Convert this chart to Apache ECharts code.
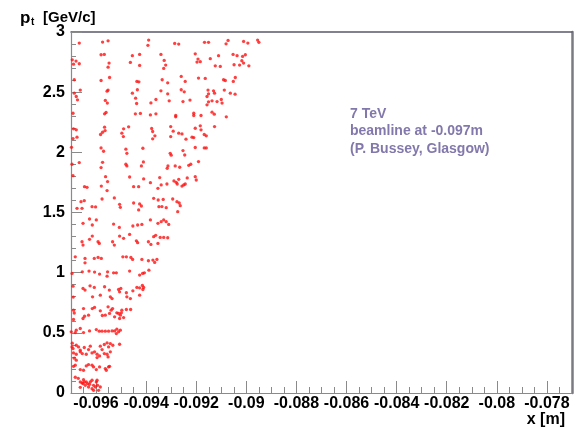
<!DOCTYPE html>
<html><head><meta charset="utf-8">
<script src="https://cdn.jsdelivr.net/npm/echarts@6/dist/echarts.min.js"></script>
<style>html,body{margin:0;padding:0;background:#fff}#c{width:582px;height:427px}</style>
</head><body><div id="c"></div>
<script>
// Axis ranges and tick labels
const X_MIN = -0.097, X_MAX = -0.077;
const Y_MIN = 0, Y_MAX = 3;
const xTickValues = [-0.096, -0.094, -0.092, -0.09, -0.088, -0.086, -0.084, -0.082, -0.08, -0.078];
const xTickLabels = ['-0.096', '-0.094', '-0.092', '-0.09', '-0.088', '-0.086', '-0.084', '-0.082', '-0.08', '-0.078'];
const yTickLabels = ['0', '0.5', '1', '1.5', '2', '2.5', '3'];
const annotationLines = ['7 TeV', 'beamline at -0.097m', '(P. Bussey, Glasgow)'];

// Hits: [x (m), pt (GeV/c)]
const hitsPt25to30 = [
[-0.09667,2.908],[-0.09574,2.916],[-0.09552,2.927],[-0.09390,2.933],[-0.09393,2.889],[-0.09286,2.905],[-0.09270,2.900],[-0.09167,2.914],[-0.09151,2.914],[-0.09081,2.902],[-0.09073,2.930],[-0.09011,2.922],[-0.08994,2.908],[-0.08955,2.933],[-0.08950,2.914],
[-0.09695,2.769],[-0.09680,2.758],[-0.09690,2.733],[-0.09667,2.736],[-0.09580,2.811],[-0.09567,2.814],[-0.09548,2.742],[-0.09552,2.708],[-0.09455,2.803],[-0.09426,2.814],[-0.09463,2.747],[-0.09426,2.722],[-0.09341,2.814],[-0.09328,2.764],[-0.09322,2.725],[-0.09330,2.697],[-0.09204,2.819],[-0.09193,2.775],[-0.09197,2.750],[-0.09184,2.753],[-0.09144,2.778],[-0.09111,2.803],[-0.09124,2.719],[-0.09104,2.714],[-0.09053,2.814],[-0.09037,2.803],[-0.09015,2.797],[-0.09004,2.811],[-0.09018,2.761],[-0.09011,2.742],[-0.09049,2.728],[-0.09027,2.725],[-0.08990,2.719],
[-0.09687,2.603],[-0.09580,2.597],[-0.09546,2.622],[-0.09437,2.589],[-0.09429,2.586],[-0.09336,2.603],[-0.09314,2.578],[-0.09260,2.631],[-0.09244,2.589],[-0.09191,2.617],[-0.09164,2.614],[-0.09091,2.603],[-0.09084,2.597],[-0.09052,2.589],[-0.09044,2.622],
[-0.09663,2.517],[-0.09556,2.508],[-0.09552,2.517],[-0.09435,2.520],[-0.09341,2.511],[-0.09248,2.503],[-0.09260,2.520],[-0.09153,2.517],[-0.09131,2.511],[-0.09088,2.517]
];
const hitsPt20to25 = [
[-0.09687,2.492],[-0.09679,2.464],[-0.09455,2.492],[-0.09314,2.486],[-0.09151,2.486],[-0.09127,2.492],[-0.09064,2.492],[-0.09045,2.483],
[-0.09674,2.436],[-0.09563,2.431],[-0.09555,2.409],[-0.09442,2.450],[-0.09438,2.406],[-0.09381,2.411],[-0.09361,2.439],[-0.09308,2.428],[-0.09253,2.422],[-0.09225,2.434],[-0.09157,2.464],[-0.09151,2.420],[-0.09137,2.428],[-0.09117,2.422],[-0.09100,2.439],[-0.09097,2.409],[-0.09157,2.395],
[-0.09692,2.325],[-0.09560,2.331],[-0.09566,2.320],[-0.09443,2.320],[-0.09423,2.323],[-0.09383,2.311],[-0.09361,2.320],[-0.09282,2.306],[-0.09282,2.295],[-0.09210,2.325],[-0.09210,2.306],[-0.09181,2.306],[-0.09137,2.334],[-0.09128,2.317],[-0.09080,2.295],
[-0.09690,2.195],[-0.09679,2.187],[-0.09676,2.126],[-0.09692,2.114],[-0.09582,2.148],[-0.09574,2.167],[-0.09566,2.209],[-0.09564,2.181],[-0.09490,2.195],[-0.09497,2.159],[-0.09491,2.131],[-0.09470,2.212],[-0.09378,2.198],[-0.09374,2.173],[-0.09374,2.112],[-0.09365,2.137],[-0.09302,2.214],[-0.09302,2.131],[-0.09292,2.176],[-0.09270,2.159],[-0.09257,2.153],[-0.09241,2.109],[-0.09217,2.126],[-0.09210,2.123],[-0.09204,2.200],[-0.09184,2.220],[-0.09181,2.187],[-0.09168,2.148],[-0.09160,2.137],[-0.09127,2.214]
];
const hitsPt15to20 = [
[-0.09698,2.042],[-0.09580,2.037],[-0.09570,2.009],[-0.09481,2.026],[-0.09477,1.992],[-0.09413,2.034],[-0.09304,1.992],[-0.09300,1.976],[-0.09253,2.015],[-0.09246,1.978],[-0.09204,2.040],[-0.09168,2.037],[-0.09160,2.037],
[-0.09696,1.901],[-0.09667,1.915],[-0.09580,1.873],[-0.09574,1.917],[-0.09481,1.901],[-0.09477,1.887],[-0.09419,1.887],[-0.09411,1.920],[-0.09316,1.867],[-0.09313,1.887],[-0.09284,1.887],[-0.09266,1.876],[-0.09230,1.892],[-0.09222,1.901],[-0.09191,1.923],
[-0.09692,1.806],[-0.09562,1.798],[-0.09579,1.720],[-0.09554,1.757],[-0.09466,1.795],[-0.09450,1.715],[-0.09430,1.715],[-0.09410,1.779],[-0.09383,1.748],[-0.09346,1.790],[-0.09340,1.729],[-0.09353,1.701],[-0.09317,1.737],[-0.09289,1.762],[-0.09280,1.751],[-0.09276,1.737],[-0.09270,1.776],[-0.09257,1.720],[-0.09250,1.729],[-0.09244,1.737],[-0.09236,1.787],[-0.09204,1.798],[-0.09200,1.770],
[-0.09646,1.715],[-0.09636,1.709],[-0.09660,1.590],[-0.09647,1.598],[-0.09576,1.612],[-0.09556,1.682],[-0.09527,1.621],[-0.09506,1.568],[-0.09450,1.579],[-0.09426,1.571],[-0.09419,1.554],[-0.09370,1.618],[-0.09352,1.604],[-0.09349,1.548],[-0.09332,1.609],[-0.09320,1.540],[-0.09294,1.612],[-0.09268,1.579],[-0.09264,1.557],[-0.09676,1.535],[-0.09656,1.535],[-0.09616,1.548],[-0.09602,1.546]
];
const hitsPt10to15 = [
[-0.09503,1.543],[-0.09430,1.521],[-0.09337,1.549],[-0.09277,1.590],[-0.09274,1.507],
[-0.09652,1.410],[-0.09626,1.446],[-0.09615,1.396],[-0.09599,1.438],[-0.09530,1.404],[-0.09507,1.376],[-0.09453,1.388],[-0.09434,1.396],[-0.09417,1.401],[-0.09383,1.438],[-0.09353,1.410],[-0.09340,1.424],[-0.09330,1.438],[-0.09320,1.424],[-0.09310,1.401],
[-0.09656,1.257],[-0.09652,1.229],[-0.09626,1.277],[-0.09615,1.304],[-0.09592,1.257],[-0.09587,1.243],[-0.09534,1.257],[-0.09527,1.229],[-0.09506,1.304],[-0.09490,1.285],[-0.09466,1.318],[-0.09439,1.265],[-0.09434,1.249],[-0.09391,1.257],[-0.09381,1.235],[-0.09370,1.299],[-0.09362,1.310],[-0.09353,1.243],[-0.09344,1.293],[-0.09330,1.293],[-0.09314,1.290],
[-0.09683,1.132],[-0.09644,1.118],[-0.09644,1.082],[-0.09607,1.118],[-0.09592,1.127],[-0.09579,1.118],[-0.09493,1.132],[-0.09479,1.132],[-0.09461,1.127],[-0.09454,1.110],[-0.09417,1.110],[-0.09391,1.099],[-0.09373,1.105],[-0.09357,1.110],[-0.09366,1.085],
[-0.09696,0.994],[-0.09655,1.007],[-0.09628,1.013],[-0.09606,1.005],[-0.09586,0.988],[-0.09554,1.007],[-0.09556,0.971],[-0.09530,0.999],[-0.09519,0.999],[-0.09466,1.013],[-0.09426,0.980],[-0.09414,0.994],[-0.09407,0.999],[-0.09389,1.021]
];
const hitsPt05to10 = [
[-0.09692,0.888],[-0.09652,0.869],[-0.09644,0.855],[-0.09624,0.891],[-0.09607,0.877],[-0.09614,0.799],[-0.09583,0.813],[-0.09566,0.883],[-0.09547,0.855],[-0.09543,0.799],[-0.09536,0.785],[-0.09510,0.860],[-0.09501,0.869],[-0.09506,0.841],[-0.09479,0.833],[-0.09477,0.799],[-0.09463,0.785],[-0.09453,0.849],[-0.09437,0.877],[-0.09426,0.874],[-0.09415,0.894],[-0.09413,0.860],[-0.09410,0.877],[-0.09426,0.813],[-0.09691,0.797],
[-0.09690,0.688],[-0.09690,0.611],[-0.09650,0.702],[-0.09652,0.619],[-0.09646,0.638],[-0.09630,0.647],[-0.09615,0.702],[-0.09606,0.711],[-0.09583,0.683],[-0.09575,0.644],[-0.09563,0.647],[-0.09552,0.716],[-0.09546,0.661],[-0.09540,0.688],[-0.09534,0.702],[-0.09526,0.633],[-0.09517,0.666],[-0.09510,0.661],[-0.09503,0.647],[-0.09499,0.666],[-0.09497,0.688],[-0.09506,0.619],[-0.09490,0.627],[-0.09479,0.694],[-0.09462,0.694],[-0.09687,0.665],
[-0.09699,0.508],[-0.09683,0.502],[-0.09679,0.522],[-0.09663,0.536],[-0.09650,0.502],[-0.09626,0.516],[-0.09599,0.527],[-0.09587,0.514],[-0.09576,0.514],[-0.09563,0.514],[-0.09550,0.514],[-0.09536,0.516],[-0.09526,0.516],[-0.09519,0.494],[-0.09510,0.508],[-0.09517,0.530],[-0.09503,0.522]
];
const hitsPt00to05 = [
[-0.09696,0.383],[-0.09692,0.369],[-0.09679,0.397],[-0.09670,0.383],[-0.09690,0.333],[-0.09679,0.322],[-0.09663,0.342],[-0.09655,0.328],[-0.09647,0.378],[-0.09639,0.322],[-0.09630,0.361],[-0.09623,0.389],[-0.09616,0.333],[-0.09606,0.342],[-0.09596,0.322],[-0.09583,0.389],[-0.09576,0.361],[-0.09567,0.403],[-0.09556,0.416],[-0.09550,0.383],[-0.09543,0.411],[-0.09533,0.397],[-0.09567,0.328],[-0.09556,0.322],[-0.09552,0.300],[-0.09543,0.342],[-0.09506,0.405],[-0.09586,0.308],[-0.09596,0.294],
[-0.09695,0.414],[-0.09663,0.356],[-0.09687,0.289],[-0.09679,0.273],
[-0.09690,0.222],[-0.09683,0.231],[-0.09663,0.195],[-0.09650,0.189],[-0.09639,0.225],[-0.09630,0.236],[-0.09616,0.231],[-0.09610,0.217],[-0.09599,0.195],[-0.09586,0.217],[-0.09563,0.203],[-0.09550,0.217],[-0.09559,0.189],[-0.09546,0.222],
[-0.09683,0.131],[-0.09671,0.122],
[-0.09663,0.092],[-0.09656,0.084],[-0.09650,0.111],[-0.09639,0.092],[-0.09634,0.078],[-0.09623,0.092],[-0.09616,0.106],[-0.09610,0.064],[-0.09603,0.050],[-0.09599,0.092],[-0.09594,0.064],[-0.09590,0.022],[-0.09610,0.022],[-0.09616,0.036],[-0.09626,0.072],[-0.09643,0.064],[-0.09652,0.078],[-0.09583,0.050],[-0.09630,0.050],[-0.09647,0.092],[-0.09596,0.106],[-0.09663,0.047]
];

const allHits = [].concat(hitsPt25to30, hitsPt20to25, hitsPt15to20, hitsPt10to15, hitsPt05to10, hitsPt00to05);

// minor x ticks every 0.0005 (positions derived from the axis range)
const xMinorTicks = [];
for (let i = 1; i < 40; i++) {
  const v = +(X_MIN + i * 0.0005).toFixed(5);
  if (i % 4 !== 2) xMinorTicks.push(v);
}

const AX = '#8a8a8a';
const FONT = '"Liberation Sans", Arial, sans-serif';
const labelStyle = { fontFamily: FONT, fontWeight: 'bold', fontSize: 16, color: '#000' };
const annColor = '#8378ab';

const chart = echarts.init(document.getElementById('c'), null, { renderer: 'canvas' });
chart.setOption({
  animation: false,
  backgroundColor: '#fff',
  grid: { left: 71, top: 32, right: 10, bottom: 34, containLabel: false, outerBoundsMode: 'none' },
  xAxis: [
    { type: 'value', position: 'bottom', min: X_MIN, max: X_MAX,
      axisLine: { show: true, onZero: false, lineStyle: { color: AX, width: 1.2 } },
      axisTick: { show: true, inside: true, length: 12, customValues: xTickValues, lineStyle: { color: AX } },
      axisLabel: { customValues: xTickValues, margin: 3, formatter: v => xTickLabels[xTickValues.indexOf(v)] ?? String(v), ...labelStyle },
      splitLine: { show: false } },
    { type: 'value', position: 'bottom', min: X_MIN, max: X_MAX,
      axisLine: { show: false },
      axisTick: { show: true, inside: true, length: 6, customValues: xMinorTicks, lineStyle: { color: AX } },
      axisLabel: { show: false }, splitLine: { show: false } },
    { type: 'value', position: 'top', min: X_MIN, max: X_MAX,
      axisLine: { show: true, onZero: false, lineStyle: { color: '#5a5a6a', width: 1.5 } },
      axisTick: { show: false }, axisLabel: { show: false }, splitLine: { show: false } }
  ],
  yAxis: [
    { type: 'value', position: 'left', min: Y_MIN, max: Y_MAX, interval: 0.5,
      axisLine: { show: true, onZero: false, lineStyle: { color: AX, width: 1.2 } },
      axisTick: { show: true, inside: true, length: 11, lineStyle: { color: AX } },
      minorTick: { show: true, splitNumber: 5, length: 5, lineStyle: { color: AX } },
      axisLabel: { margin: 6, formatter: v => yTickLabels[Math.round(v * 2)], ...labelStyle },
      splitLine: { show: false } },
    { type: 'value', position: 'right', min: Y_MIN, max: Y_MAX,
      axisLine: { show: true, onZero: false, lineStyle: { color: '#7a7a82', width: 2.5 } },
      axisTick: { show: false }, axisLabel: { show: false }, splitLine: { show: false } }
  ],
  series: [{
    type: 'scatter', xAxisIndex: 0, yAxisIndex: 0, data: allHits,
    symbol: 'circle', symbolSize: 3.3, silent: true,
    itemStyle: { color: '#ff1010' }
  }],
  graphic: [
    { type: 'text', x: 20, y: 18, style: { text: 'p', font: 'bold 17px ' + FONT, fill: '#000', verticalAlign: 'middle', align: 'left' } },
    { type: 'text', x: 31, y: 22, style: { text: 't', font: 'bold 10px ' + FONT, fill: '#000', verticalAlign: 'middle', align: 'left' } },
    { type: 'text', x: 43, y: 18, style: { text: '[GeV/c]', font: 'bold 15px ' + FONT, fill: '#000', verticalAlign: 'middle', align: 'left' } },
    { type: 'text', x: 565, y: 420, style: { text: 'x [m]', font: 'bold 16px ' + FONT, fill: '#000', verticalAlign: 'middle', align: 'right' } },
    { type: 'text', x: 350, y: 114, style: { text: annotationLines[0], font: 'bold 14px ' + FONT, fill: annColor, verticalAlign: 'middle', align: 'left' } },
    { type: 'text', x: 350, y: 131.5, style: { text: annotationLines[1], font: 'bold 14px ' + FONT, fill: annColor, verticalAlign: 'middle', align: 'left' } },
    { type: 'text', x: 350, y: 149, style: { text: annotationLines[2], font: 'bold 14px ' + FONT, fill: annColor, verticalAlign: 'middle', align: 'left' } }
  ]
});
</script>
</body></html>
